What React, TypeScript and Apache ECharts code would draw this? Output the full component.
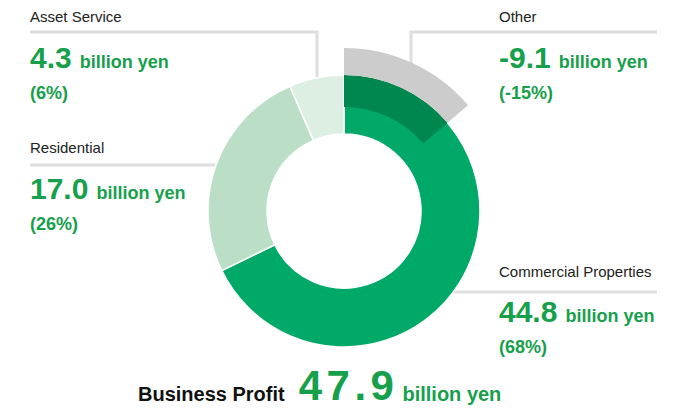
import React, { useEffect, useRef } from 'react';
import * as echarts from 'echarts';

// ---- data ----
const segmentNames = ['Commercial Properties', 'Residential', 'Asset Service'];
const segmentValues = [44.8, 17.0, 4.3];
const segmentShares = ['(68%)', '(26%)', '(6%)'];
const otherName = 'Other';
const otherValue = -9.1;
const otherShare = '(-15%)';
const totalName = 'Business Profit';
const totalValue = 47.9;
const unitText = 'billion yen';

// ---- styles / layout ----
const FONT = '"Liberation Sans", Arial, Helvetica, sans-serif';
const GREEN_TEXT = '#16A04C';
const segmentColors = ['#00A968', '#BBDFC6', '#DDEEE2'];
const OTHER_INNER = '#00874F';
const OTHER_OUTER = '#CCCCCC';
const LINE = '#DEDEDE';

// label blocks: x, name baseline, value baseline, share baseline
const blockLayout = [
  { x: 499, name: 277, value: 322, share: 353 },
  { x: 30, name: 153, value: 199, share: 230 },
  { x: 30, name: 22, value: 68, share: 99 },
];
const otherLayout = { x: 499, name: 22, value: 68, share: 99 };

let measureCtx: CanvasRenderingContext2D | null = null;
function textWidth(text: string, size: number, weight: string) {
  if (!measureCtx) measureCtx = document.createElement('canvas').getContext('2d');
  if (!measureCtx) return text.length * size * 0.55;
  measureCtx.font = `${weight} ${size}px ${FONT}`;
  return measureCtx.measureText(text).width;
}

function txt(text: string, x: number, baseline: number, size: number, weight: string, fill: string) {
  return {
    type: 'text',
    x,
    y: baseline - 0.3465 * size,
    silent: true,
    z: 10,
    style: {
      text,
      fill,
      fontSize: size,
      fontWeight: weight,
      fontFamily: FONT,
      align: 'left',
      verticalAlign: 'middle',
    },
  };
}

function block(name: string, value: number, share: string, L: { x: number; name: number; value: number; share: number }) {
  const vText = value.toFixed(1);
  const vw = textWidth(vText, 30, 'bold');
  return [
    txt(name, L.x, L.name, 15, 'normal', '#222222'),
    txt(vText, L.x, L.value, 30, 'bold', GREEN_TEXT),
    txt(unitText, L.x + vw + 8, L.value, 18, 'bold', GREEN_TEXT),
    txt(share, L.x, L.share, 18, 'bold', GREEN_TEXT),
  ];
}

export default function App() {
  const ref = useRef<HTMLDivElement>(null);
  useEffect(() => {
    if (!ref.current) return;
    const chart = echarts.init(ref.current, undefined, { renderer: 'svg' });
    const positiveSum = segmentValues.reduce((a, b) => a + b, 0);
    const otherAbs = Math.abs(otherValue);
    const rest = positiveSum - otherAbs;
    const center = [344, 211];

    const graphics: any[] = [];
    // leader lines
    graphics.push(
      { type: 'polyline', silent: true, z: 0, shape: { points: [[30, 32], [317, 32], [317, 78]] }, style: { stroke: LINE, lineWidth: 3, fill: 'none' } },
      { type: 'line', silent: true, z: 0, shape: { x1: 30, y1: 165, x2: 220, y2: 165 }, style: { stroke: LINE, lineWidth: 3 } },
      { type: 'polyline', silent: true, z: 0, shape: { points: [[657, 32], [411, 32], [411, 64]] }, style: { stroke: LINE, lineWidth: 3, fill: 'none' } },
      { type: 'line', silent: true, z: 0, shape: { x1: 452, y1: 292, x2: 657, y2: 292 }, style: { stroke: LINE, lineWidth: 3 } },
    );
    segmentNames.forEach((n, i) => {
      graphics.push(...block(n, segmentValues[i], segmentShares[i], blockLayout[i]));
    });
    graphics.push(...block(otherName, otherValue, otherShare, otherLayout));

    // bottom total
    const rowBase = 400.5;
    const bpW = textWidth(totalName, 20, 'bold');
    const tText = totalValue.toFixed(1);
    const bx = 138;
    const bigSize = 42;
    const bigBase = 400;
    const spacing = 4.5;
    graphics.push(txt(totalName, bx, rowBase, 20, 'bold', '#111111'));
    let cx = bx + bpW + 14;
    for (const ch of tText.split('')) {
      graphics.push(txt(ch, cx, bigBase, bigSize, 'bold', GREEN_TEXT));
      cx += textWidth(ch, bigSize, 'bold') + spacing;
    }
    graphics.push(txt(unitText, cx + 4, rowBase, 20, 'bold', GREEN_TEXT));

    const common = {
      type: 'pie',
      center,
      startAngle: 90,
      clockwise: true,
      silent: true,
      avoidLabelOverlap: false,
      label: { show: false },
      labelLine: { show: false },
      emphasis: { disabled: true },
    };

    chart.setOption({
      animation: false,
      backgroundColor: '#ffffff',
      graphic: { elements: graphics },
      series: [
        {
          ...common,
          radius: [77, 136],
          z: 2,
          itemStyle: { borderColor: '#ffffff', borderWidth: 1.5 },
          data: segmentNames.map((n, i) => ({
            name: n,
            value: segmentValues[i],
            itemStyle: { color: segmentColors[i] },
          })),
        },
        {
          ...common,
          radius: [104, 136],
          z: 3,
          data: [
            { name: otherName, value: otherAbs, itemStyle: { color: OTHER_INNER } },
            { name: 'rest', value: rest, itemStyle: { color: 'rgba(0,0,0,0)' } },
          ],
        },
        {
          ...common,
          radius: [136, 163],
          z: 3,
          data: [
            { name: otherName + ' ', value: otherAbs, itemStyle: { color: OTHER_OUTER } },
            { name: 'rest ', value: rest, itemStyle: { color: 'rgba(0,0,0,0)' } },
          ],
        },
      ],
    });
    return () => chart.dispose();
  }, []);
  return <div ref={ref} style={{ position: 'fixed', left: 0, top: 0, width: 691, height: 409 }} />;
}
